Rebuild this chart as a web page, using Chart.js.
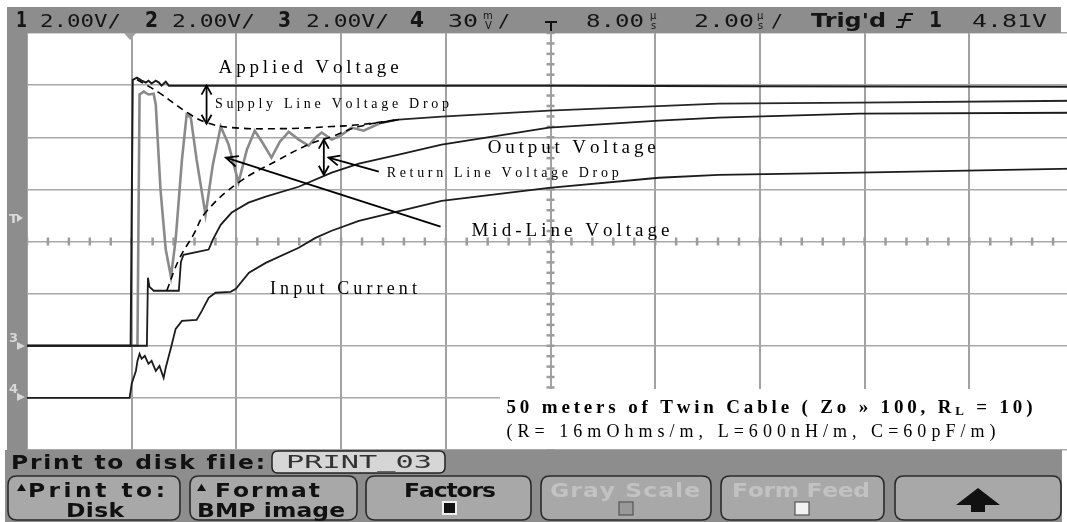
<!DOCTYPE html>
<html><head><meta charset="utf-8">
<script src="https://cdn.jsdelivr.net/npm/chart.js@4.4.1/dist/chart.umd.min.js"></script>
<style>
html,body{margin:0;padding:0;background:#fff;overflow:hidden;width:1067px;height:522px}
#wrap{position:absolute;left:0;top:0;width:1080px;height:522px}
</style></head><body>
<div id="wrap"><canvas id="c" width="1080" height="522"></canvas></div>
<script>
// ---- data: time in µs (2 µs/div, 8 µs at centre), ch1-3 in volts (2 V/div), ch4 in mV (30 mV/div)
const appliedT = [-2, -0.02, 0.02, 0.10, 0.19, 0.27, 0.32, 0.38, 0.46, 0.52, 0.57, 0.65, 0.71, 0.90, 2.0, 4.0, 8.0, 12.0, 18.0];
const appliedV = [0, 0, 10.2, 10.29, 10.17, 10.1, 10.17, 10.06, 10.17, 10.1, 9.98, 10.13, 9.98, 9.98, 9.98, 9.98, 9.98, 9.96, 9.94];

const midT = [-2, 0.11, 0.15, 0.23, 0.32, 0.42, 0.46, 0.55, 0.65, 0.75, 0.84, 0.96, 1.05, 1.13, 1.24, 1.41, 1.55, 1.70, 1.85, 2.04, 2.20, 2.35, 2.50, 2.67, 2.83, 3.00, 3.19, 3.38, 3.53, 3.63, 3.82, 3.99, 4.20, 4.43, 4.72, 5.10, 5.92, 7.97, 11.21, 13.89, 18.0];
const midV = [0, 0, 9.64, 9.75, 9.64, 9.67, 9.25, 5.99, 3.69, 2.65, 4.07, 7.14, 8.87, 8.75, 7.14, 5.03, 6.95, 8.41, 7.72, 6.26, 7.52, 8.25, 7.79, 7.22, 7.83, 8.21, 7.91, 7.68, 8.02, 8.18, 7.91, 8.06, 8.37, 8.25, 8.52, 8.68, 8.79, 9.02, 9.29, 9.33, 9.40];

const outT = [-2, 0.29, 0.31, 0.34, 0.42, 0.90, 0.94, 0.99, 1.28, 1.47, 1.55, 1.70, 1.91, 2.23, 2.56, 3.19, 3.82, 4.34, 5.10, 5.92, 7.01, 7.97, 10.07, 11.21, 13.89, 18.0];
const outV = [0, 0, 2.61, 2.26, 2.11, 2.11, 3.22, 3.49, 3.61, 3.69, 4.07, 4.64, 5.11, 5.49, 5.72, 6.10, 6.64, 6.99, 7.33, 7.72, 8.06, 8.37, 8.64, 8.75, 8.91, 8.94];

const curT = [-2, -0.04, 0.0, 0.08, 0.11, 0.15, 0.19, 0.25, 0.32, 0.38, 0.46, 0.53, 0.61, 0.65, 0.75, 0.84, 0.96, 1.24, 1.34, 1.47, 1.60, 1.89, 1.99, 2.24, 2.56, 3.19, 3.51, 3.82, 4.34, 5.92, 7.97, 10.07, 11.21, 13.89, 18.0];
const curMV = [0, 0, 8.1, 15.5, 21.3, 25.3, 22.5, 24.2, 19.6, 21.3, 15.5, 18.4, 11.5, 17.3, 28.8, 39.7, 44.3, 44.9, 50.1, 57.6, 60.5, 61.0, 62.8, 72.0, 77.7, 86.4, 92.1, 96.2, 101.9, 113.4, 120.9, 126.7, 128.4, 129.6, 131.9];

const envUpT = [0.10, 0.52, 1.09, 1.43, 1.91, 2.87, 3.82, 4.34, 5.10];
const envUpV = [10.21, 9.71, 8.91, 8.56, 8.37, 8.33, 8.41, 8.48, 8.68];
const envLoT = [0.67, 0.90, 1.18, 1.41, 2.04, 2.81, 3.38, 3.82, 4.34, 5.10];
const envLoV = [2.11, 3.30, 4.26, 5.11, 6.26, 7.14, 7.72, 8.02, 8.41, 8.68];

// readout labels
const topLabels = ["1", "2.00V/", "2", "2.00V/", "3", "2.00V/", "4", "30", "8.00", "2.00", "Trig'd", "1", "4.81V"];

const pts = (t, v) => t.map((x, i) => ({x: x, y: v[i]}));

const SERIF = '"Liberation Serif", "DejaVu Serif", serif';
const SANS = '"DejaVu Sans", sans-serif';
const MONO = '"DejaVu Sans Mono", monospace';
const NARROW = '"Liberation Sans Narrow", "DejaVu Sans Condensed", "DejaVu Sans", sans-serif';

function spaced(ctx, parts, x, y, targetW) {
  const chars = [];
  parts.forEach(p => { for (const ch of p.t) chars.push({ch, font: p.font, dy: p.dy || 0}); });
  let sum = 0;
  chars.forEach(c => { ctx.font = c.font; c.w = ctx.measureText(c.ch).width; sum += c.w; });
  const sp = targetW ? (targetW - sum) / Math.max(1, chars.length - 1) : 0;
  let cx = x;
  chars.forEach(c => { ctx.font = c.font; ctx.fillText(c.ch, cx, y + c.dy); cx += c.w + sp; });
}
function hybrid(ctx, text, x, y, font, targetW, k, align) {
  const left = align === 'center' ? x - targetW / 2 : x;
  ctx.save(); ctx.translate(left, y); ctx.scale(k, 1);
  spaced(ctx, [{t: text, font}], 0, 0, targetW / k);
  ctx.restore();
}
function stretched(ctx, text, x, y, font, targetW, align) {
  ctx.save(); ctx.font = font;
  const w = ctx.measureText(text).width;
  const k = targetW / w;
  const left = align === 'center' ? x - targetW / 2 : x;
  ctx.translate(left, y); ctx.scale(k, 1); ctx.textAlign = 'left';
  ctx.fillText(text, 0, 0);
  ctx.restore();
}

function arrowHead(ctx, x1, y1, x2, y2, len, half) {
  const a = Math.atan2(y2 - y1, x2 - x1);
  ctx.beginPath();
  ctx.moveTo(x2 - len * Math.cos(a) + half * Math.sin(a), y2 - len * Math.sin(a) - half * Math.cos(a));
  ctx.lineTo(x2, y2);
  ctx.lineTo(x2 - len * Math.cos(a) - half * Math.sin(a), y2 - len * Math.sin(a) + half * Math.cos(a));
  ctx.stroke();
}

function rrect(ctx, x, y, w, h, r) {
  ctx.beginPath();
  ctx.moveTo(x + r, y); ctx.lineTo(x + w - r, y); ctx.quadraticCurveTo(x + w, y, x + w, y + r);
  ctx.lineTo(x + w, y + h - r); ctx.quadraticCurveTo(x + w, y + h, x + w - r, y + h);
  ctx.lineTo(x + r, y + h); ctx.quadraticCurveTo(x, y + h, x, y + h - r);
  ctx.lineTo(x, y + r); ctx.quadraticCurveTo(x, y, x + r, y); ctx.closePath();
}
function tri(ctx, x, y, s) {
  ctx.beginPath(); ctx.moveTo(x, y); ctx.lineTo(x + s / 2, y - s * 0.8); ctx.lineTo(x + s, y); ctx.closePath(); ctx.fill();
}

const scopePlugin = {
  id: 'scope',
  beforeDraw(chart) {
    const ctx = chart.ctx;
    ctx.save(); ctx.fillStyle = '#fff'; ctx.fillRect(0, 0, chart.width, chart.height); ctx.restore();
  },
  beforeDatasetsDraw(chart) {
    const ctx = chart.ctx, xs = chart.scales.x, ys = chart.scales.y;
    ctx.save();
    ctx.strokeStyle = '#9c9c9c'; ctx.lineWidth = 2.5;
    const cy = ys.getPixelForValue(4), cx = xs.getPixelForValue(8);
    for (let t = -2; t <= 18.001; t += 0.4) {
      const x = xs.getPixelForValue(t);
      ctx.beginPath(); ctx.moveTo(x, cy - 4); ctx.lineTo(x, cy + 4); ctx.stroke();
    }
    for (let v = -4; v <= 12.001; v += 0.4) {
      const y = ys.getPixelForValue(v);
      ctx.beginPath(); ctx.moveTo(cx - 4, y); ctx.lineTo(cx + 4, y); ctx.stroke();
    }
    ctx.restore();
  },
  afterDatasetsDraw(chart) {
    const ctx = chart.ctx, xs = chart.scales.x, ys = chart.scales.y;
    const X = t => xs.getPixelForValue(t), Y = v => ys.getPixelForValue(v);
    ctx.save();
    ctx.fillStyle = '#fff'; ctx.fillRect(500, 389, 580, 60);

    ctx.strokeStyle = '#000'; ctx.lineWidth = 1.8; ctx.setLineDash([]);
    let x1 = X(1.43), ya = Y(9.98), yb = Y(8.52);
    ctx.beginPath(); ctx.moveTo(x1, ya); ctx.lineTo(x1, yb); ctx.stroke();
    arrowHead(ctx, x1, yb, x1, ya, 9, 5); arrowHead(ctx, x1, ya, x1, yb, 9, 5);
    x1 = X(3.67); ya = Y(7.91); yb = Y(6.56);
    ctx.beginPath(); ctx.moveTo(x1, ya); ctx.lineTo(x1, yb); ctx.stroke();
    arrowHead(ctx, x1, yb, x1, ya, 9, 5); arrowHead(ctx, x1, ya, x1, yb, 9, 5);
    let ax = X(4.72), ay = Y(6.68), bx = X(3.76), by = Y(7.22);
    ctx.beginPath(); ctx.moveTo(ax, ay); ctx.lineTo(bx, by); ctx.stroke();
    arrowHead(ctx, ax, ay, bx, by, 11, 5);
    ax = X(5.90); ay = Y(4.57); bx = X(1.80); by = Y(7.22);
    ctx.beginPath(); ctx.moveTo(ax, ay); ctx.lineTo(bx, by); ctx.stroke();
    arrowHead(ctx, ax, ay, bx, by, 12, 5.5);

    ctx.fillStyle = '#000'; ctx.textBaseline = 'alphabetic';
    spaced(ctx, [{t: 'Applied Voltage', font: '19px ' + SERIF}], X(1.66), Y(10.48), 180);
    spaced(ctx, [{t: 'Supply Line Voltage Drop', font: '14px ' + SERIF}], X(1.59), Y(9.14), 234);
    spaced(ctx, [{t: 'Output Voltage', font: '19px ' + SERIF}], X(6.80), Y(7.41), 168);
    spaced(ctx, [{t: 'Return Line Voltage Drop', font: '14px ' + SERIF}], X(4.87), Y(6.49), 232);
    spaced(ctx, [{t: 'Mid-Line Voltage', font: '19px ' + SERIF}], X(6.49), Y(4.22), 198);
    spaced(ctx, [{t: 'Input Current', font: '18px ' + SERIF}], X(2.64), Y(2.0), 147);
    spaced(ctx, [
      {t: '50 meters of Twin Cable ( Zo \u00bb 100, R', font: 'bold 19px ' + SERIF},
      {t: 'L', font: 'bold 13px ' + SERIF, dy: 2},
      {t: ' = 10)', font: 'bold 19px ' + SERIF}
    ], X(7.16), Y(-2.57), 526);
    spaced(ctx, [{t: '(R= 16mOhms/m, L=600nH/m, C=60pF/m)', font: '18px ' + SERIF}], X(7.16), Y(-3.49), 489);

    // ---- scope chrome
    ctx.fillStyle = '#8d8d8d';
    ctx.fillRect(7, 7, 1054, 26);
    ctx.fillRect(7, 33, 20, 417);
    ctx.fillRect(5, 450, 1057, 72);

    const reg = '18px ' + MONO, bld = 'bold 22px ' + SANS;
    ctx.fillStyle = '#151515';
    const by0 = 27;
    const place = [
      [topLabels[0], 16, 11, bld], [topLabels[1], 40, 81, reg],
      [topLabels[2], 145, 13, bld], [topLabels[3], 172, 83, reg],
      [topLabels[4], 278, 13, bld], [topLabels[5], 306, 83, reg],
      [topLabels[6], 410, 14, bld], [topLabels[7], 448, 30, reg],
      [topLabels[8], 586, 58, reg], [topLabels[9], 694, 60, reg],
      [topLabels[10], 811, 75, 'bold 19px ' + SANS], [topLabels[11], 929, 13, bld],
      [topLabels[12], 972, 75, reg]
    ];
    place.forEach(p => stretched(ctx, p[0], p[1], by0, p[3], p[2]));
    ctx.font = '10px ' + SANS;
    ctx.fillText('m', 483, 19); ctx.fillText('V', 485, 29); stretched(ctx, '/', 498, by0, reg, 12);
    ctx.fillText('\u00b5', 650, 19); ctx.fillText('s', 651, 29);
    ctx.fillText('\u00b5', 757, 19); ctx.fillText('s', 758, 29); stretched(ctx, '/', 771, by0, reg, 12);
    ctx.strokeStyle = '#111'; ctx.lineWidth = 2;
    ctx.beginPath(); ctx.moveTo(545, 22); ctx.lineTo(551, 22); ctx.lineTo(551, 31); ctx.moveTo(551, 22); ctx.lineTo(557, 22); ctx.stroke();
    ctx.beginPath(); ctx.moveTo(896, 27); ctx.lineTo(902, 27); ctx.lineTo(906, 14); ctx.lineTo(913, 14); ctx.moveTo(898, 20); ctx.lineTo(911, 20); ctx.stroke();
    ctx.fillStyle = '#a0a0a0';
    ctx.beginPath(); ctx.moveTo(124, 33); ctx.lineTo(136, 33); ctx.lineTo(130, 40); ctx.closePath(); ctx.fill();

    ctx.fillStyle = '#d8d8d8'; ctx.font = 'bold 13px ' + SANS;
    ctx.fillText('T', 9, 223);
    ctx.fillText('3', 9, 342); ctx.fillText('4', 9, 393);
    ctx.beginPath(); ctx.moveTo(17, 342); ctx.lineTo(25, 346); ctx.lineTo(17, 350); ctx.closePath(); ctx.fill();
    ctx.beginPath(); ctx.moveTo(17, 393); ctx.lineTo(25, 397); ctx.lineTo(17, 401); ctx.closePath(); ctx.fill();
    ctx.beginPath(); ctx.moveTo(17, 214); ctx.lineTo(23, 218); ctx.lineTo(17, 222); ctx.closePath(); ctx.fill();

    // bottom softkey menu
    const mf = 'bold 20px ' + NARROW, K = 1.3;
    ctx.fillStyle = '#111';
    hybrid(ctx, 'Print to disk file:', 11, 469, mf, 254, K);
    ctx.fillStyle = '#d6d6d6'; rrect(ctx, 272, 451, 173, 22, 6); ctx.fill();
    ctx.strokeStyle = '#222'; ctx.lineWidth = 1.5; ctx.stroke();
    ctx.fillStyle = '#333';
    stretched(ctx, 'PRINT_03', 286, 468, '17px ' + MONO, 146);

    const btns = [[8, 180], [190, 357], [366, 531], [541, 711], [721, 884], [895, 1061]];
    btns.forEach(b => {
      ctx.fillStyle = '#a8a8a8'; rrect(ctx, b[0], 476, b[1] - b[0], 44, 9); ctx.fill();
      ctx.strokeStyle = '#2a2a2a'; ctx.lineWidth = 1.6; ctx.stroke();
    });
    ctx.fillStyle = '#111';
    tri(ctx, 17, 491, 9); tri(ctx, 197, 491, 9);
    hybrid(ctx, 'Print to:', 28, 497, mf, 137, K);
    hybrid(ctx, 'Disk', 95, 517, mf, 58, K, 'center');
    hybrid(ctx, 'Format', 215, 497, mf, 105, K);
    hybrid(ctx, 'BMP image', 271, 517, mf, 148, K, 'center');
    hybrid(ctx, 'Factors', 450, 497, mf, 92, K, 'center');
    ctx.fillStyle = '#c2c2c2';
    hybrid(ctx, 'Gray Scale', 625, 497, mf, 150, K, 'center');
    hybrid(ctx, 'Form Feed', 801, 497, mf, 138, K, 'center');
    ctx.fillStyle = '#eee'; ctx.fillRect(442, 501, 15, 14); ctx.fillStyle = '#111'; ctx.fillRect(444, 503, 11, 10);
    ctx.strokeStyle = '#555'; ctx.lineWidth = 1.2; ctx.fillStyle = '#999';
    ctx.fillRect(619, 502, 14, 13); ctx.strokeRect(619, 502, 14, 13);
    ctx.fillStyle = '#f2f2f2'; ctx.fillRect(795, 502, 14, 13); ctx.strokeRect(795, 502, 14, 13);
    ctx.fillStyle = '#111';
    ctx.beginPath(); ctx.moveTo(978, 488); ctx.lineTo(1000, 505); ctx.lineTo(985, 505); ctx.lineTo(985, 512);
    ctx.lineTo(971, 512); ctx.lineTo(971, 505); ctx.lineTo(956, 505); ctx.closePath(); ctx.fill();
    ctx.restore();
  }
};

const line = (data, color, w, extra) => Object.assign({data, borderColor: color, borderWidth: w, pointRadius: 0, tension: 0, fill: false}, extra || {});

new Chart(document.getElementById('c'), {
  type: 'line',
  data: {
    datasets: [
      line(pts(envUpT, envUpV), '#000', 1.6, {borderDash: [7, 5], tension: 0.4, order: 0}),
      line(pts(envLoT, envLoV), '#000', 1.6, {borderDash: [7, 5], tension: 0.4, order: 0}),
      line(pts(appliedT, appliedV), '#1c1c1c', 2, {order: 1}),
      line(pts(outT, outV), '#1c1c1c', 1.8, {order: 2}),
      line(pts(curT, curMV), '#1c1c1c', 1.8, {order: 2, yAxisID: 'y2'}),
      line(pts(midT, midV), '#8a8a8a', 2.6, {order: 3, segment: {
        borderColor: c => c.p0.parsed.x >= 4.7 ? '#262626' : undefined,
        borderWidth: c => c.p0.parsed.x >= 4.7 ? 1.8 : undefined
      }})
    ]
  },
  options: {
    responsive: false, animation: false, devicePixelRatio: 1, events: [],
    layout: {padding: {left: 27, top: 33, right: 6, bottom: 72}},
    plugins: {legend: {display: false}, tooltip: {enabled: false}},
    scales: {
      x: {type: 'linear', min: -2, max: 18, ticks: {display: false, stepSize: 2}, border: {display: false},
          grid: {color: '#a2a2a2', lineWidth: 2, drawTicks: false}},
      y: {type: 'linear', min: -4, max: 12, ticks: {display: false, stepSize: 2}, border: {display: false},
          grid: {color: '#a8a8a8', lineWidth: 1.5, drawTicks: false}},
      y2: {type: 'linear', min: -30, max: 210, display: false}
    }
  },
  plugins: [scopePlugin]
});
</script>
</body></html>
